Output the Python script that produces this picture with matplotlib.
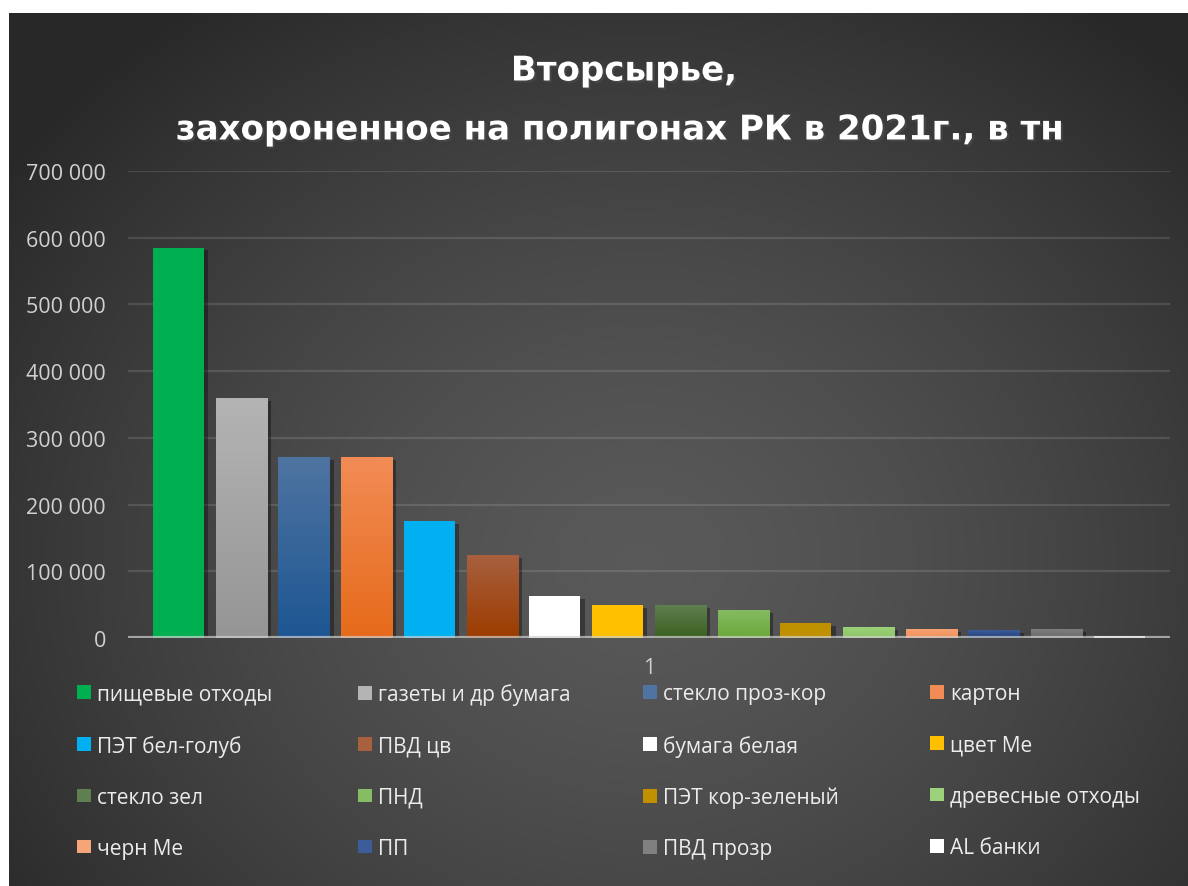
import numpy as np
import matplotlib
matplotlib.use("Agg")
import matplotlib.pyplot as plt
import matplotlib.patheffects as pe
from matplotlib.patches import Patch
from matplotlib.colors import LinearSegmentedColormap

# данные (тонн)
categories = ["пищевые отходы", "газеты и др бумага", "стекло проз-кор", "картон",
              "ПЭТ бел-голуб", "ПВД цв", "бумага белая", "цвет Ме",
              "стекло зел", "ПНД", "ПЭТ кор-зеленый", "древесные отходы",
              "черн Ме", "ПП", "ПВД прозр", "AL банки"]
values = [585000, 360000, 271500, 271500, 175500, 124500, 63000, 49000,
          49000, 42000, 22500, 16500, 13500, 11500, 13500, 3000]
# цвета: верх -> низ
colors_top = ["#00b050", "#b4b4b4", "#4f74a1", "#f28c56", "#00b0f0", "#a8603f",
              "#ffffff", "#ffc000", "#5f7f50", "#86bc64", "#bf9000", "#9cd27c",
              "#f5a577", "#3c5c9a", "#808080", "#ffffff"]
colors_bot = ["#00b050", "#959595", "#1d5692", "#e66a1a", "#00b0f0", "#9c3c00",
              "#ffffff", "#ffc000", "#3a6020", "#6aa83a", "#bf9000", "#8cc564",
              "#f39055", "#203f7a", "#6a6a6a", "#ffffff"]
ytick_vals = [0, 100000, 200000, 300000, 400000, 500000, 600000, 700000]
ytick_labels = ["0", "100 000", "200 000", "300 000", "400 000", "500 000", "600 000", "700 000"]

W, H = 1188, 887
fig = plt.figure(figsize=(W / 100, H / 100), dpi=100)
fig.patch.set_facecolor("white")

# фон с радиальным градиентом
bg = fig.add_axes([9 / W, 0, (W - 9) / W, (H - 14) / H])
bg.set_axis_off()
yy, xx = np.mgrid[14:H, 9:W]
d = np.sqrt(((xx - 640) / 720.0) ** 2 + ((yy - 560) / 620.0) ** 2)
val = np.clip(0.35 - 0.17 * d ** 1.4, 0.16, 1)
bg.imshow(np.dstack([val, val, val]), aspect="auto", extent=[0, 1, 0, 1], origin="upper")
bg.set_xlim(0, 1)
bg.set_ylim(0, 1)

ax = fig.add_axes([128 / W, 1 - 639 / H, (1170 - 128) / W, (639 - 172) / H])
ax.set_facecolor("none")
for s in ax.spines.values():
    s.set_visible(False)

ax.set_yticks(ytick_vals)
ax.set_yticklabels(ytick_labels)
ax.set_xticks([7.5])
ax.set_xticklabels(["1"])
ax.tick_params(axis="both", length=0, colors="#d0d0d0", labelsize=15.5)
ax.tick_params(axis="y", pad=16)
ax.tick_params(axis="x", pad=14)
for lab in ax.get_xticklabels() + ax.get_yticklabels():
    lab.set_fontfamily("Open Sans")

for v in ytick_vals[1:]:
    ax.axhline(v, color="#ffffff", alpha=0.12, lw=1.6, zorder=1)

x = np.arange(len(values))
bars = ax.bar(x, values, width=0.815, zorder=3, linewidth=0)
for i, b in enumerate(bars):
    b.set_facecolor(colors_top[i])
    b.set_path_effects([pe.SimplePatchShadow(offset=(3, -2), shadow_rgbFace="black", alpha=0.35),
                        pe.Normal()])
    if colors_top[i] != colors_bot[i]:
        cmap = LinearSegmentedColormap.from_list("g%d" % i, [colors_bot[i], colors_top[i]])
        grad = np.linspace(1, 0, 100).reshape(-1, 1)
        bx = b.get_x()
        im = ax.imshow(grad, cmap=cmap, aspect="auto", zorder=4,
                       extent=[bx, bx + b.get_width(), 0, b.get_height()], vmin=0, vmax=1)
        im.set_clip_path(b)
ax.set_xlim(-0.805, 15.805)
ax.set_ylim(0, 700000)

ax.axhline(0, color="#d0d0d0", alpha=0.7, lw=3, zorder=5,
           path_effects=[pe.SimpleLineShadow(offset=(0, -2), alpha=0.4), pe.Normal()])

# заголовок
title_fx = [pe.SimplePatchShadow(offset=(1.5, -1.5), alpha=0.6), pe.Normal()]
fig.text(624 / W, 1 - 72 / H, "Вторсырье,", ha="center", va="center", color="white",
         fontsize=24.5, fontweight="bold", fontfamily="DejaVu Sans", path_effects=title_fx)
fig.text(620 / W, 1 - 131 / H, "захороненное на полигонах РК в 2021г., в тн", ha="center", va="center",
         color="white", fontsize=24.5, fontweight="bold", fontfamily="DejaVu Sans",
         path_effects=title_fx)

# легенда: 4 колонки
handles = [Patch(facecolor=colors_top[i], edgecolor="none") for i in range(len(categories))]
col_x = [67, 348, 633, 920]
for c in range(4):
    idx = list(range(c, len(categories), 4))
    leg = fig.legend([handles[i] for i in idx], [categories[i] for i in idx],
                     loc="upper left", bbox_to_anchor=(col_x[c] / W, 1 - 674 / H),
                     frameon=False, ncol=1, handlelength=0.63, handleheight=0.63,
                     handletextpad=0.3, labelspacing=1.45, borderpad=0,
                     prop={"family": "Open Sans", "size": 15})
    for t in leg.get_texts():
        t.set_color("#ececec")

fig.savefig("out.png", dpi=100)
